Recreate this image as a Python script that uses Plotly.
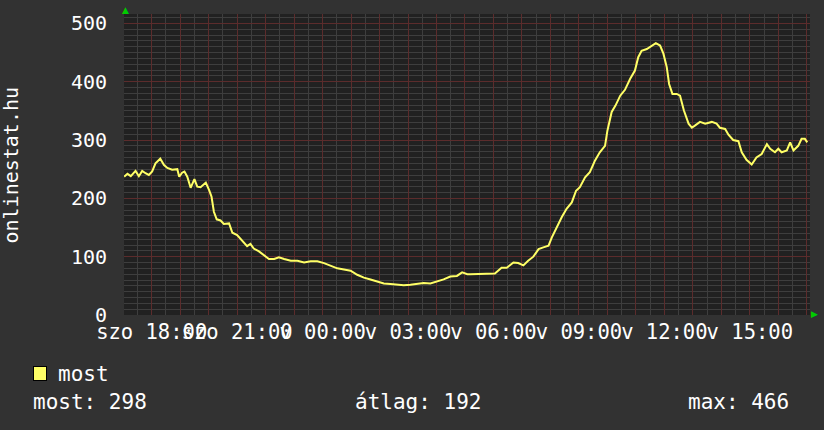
import plotly.graph_objects as go

# ---- data (Sat 2024-03-09 -> Sun 2024-03-10) ----
times = [
    "2024-03-09 17:02", "2024-03-09 17:09", "2024-03-09 17:16", "2024-03-09 17:26", "2024-03-09 17:33",
    "2024-03-09 17:40", "2024-03-09 17:47", "2024-03-09 17:54", "2024-03-09 18:01", "2024-03-09 18:08",
    "2024-03-09 18:18", "2024-03-09 18:26", "2024-03-09 18:33", "2024-03-09 18:43", "2024-03-09 18:54",
    "2024-03-09 18:58", "2024-03-09 19:04", "2024-03-09 19:09", "2024-03-09 19:15", "2024-03-09 19:22",
    "2024-03-09 19:30", "2024-03-09 19:36", "2024-03-09 19:43", "2024-03-09 19:54", "2024-03-09 20:01",
    "2024-03-09 20:06", "2024-03-09 20:11", "2024-03-09 20:17", "2024-03-09 20:25", "2024-03-09 20:32",
    "2024-03-09 20:43", "2024-03-09 20:50", "2024-03-09 21:00", "2024-03-09 21:11", "2024-03-09 21:21",
    "2024-03-09 21:28", "2024-03-09 21:35", "2024-03-09 21:46", "2024-03-09 21:57", "2024-03-09 22:07",
    "2024-03-09 22:18", "2024-03-09 22:28", "2024-03-09 22:39", "2024-03-09 22:53", "2024-03-09 23:07",
    "2024-03-09 23:21", "2024-03-09 23:35", "2024-03-09 23:49", "2024-03-10 00:03", "2024-03-10 00:17",
    "2024-03-10 00:31", "2024-03-10 00:45", "2024-03-10 00:59", "2024-03-10 01:13", "2024-03-10 01:27",
    "2024-03-10 01:41", "2024-03-10 01:55", "2024-03-10 02:09", "2024-03-10 02:23", "2024-03-10 02:37",
    "2024-03-10 02:51", "2024-03-10 03:05", "2024-03-10 03:19", "2024-03-10 03:33", "2024-03-10 03:47",
    "2024-03-10 04:01", "2024-03-10 04:15", "2024-03-10 04:29", "2024-03-10 04:43", "2024-03-10 04:54",
    "2024-03-10 05:05", "2024-03-10 05:11", "2024-03-10 05:39", "2024-03-10 06:03", "2024-03-10 06:17",
    "2024-03-10 06:28", "2024-03-10 06:42", "2024-03-10 06:52", "2024-03-10 07:03", "2024-03-10 07:13",
    "2024-03-10 07:24", "2024-03-10 07:35", "2024-03-10 07:45", "2024-03-10 07:56", "2024-03-10 08:03",
    "2024-03-10 08:13", "2024-03-10 08:24", "2024-03-10 08:34", "2024-03-10 08:45", "2024-03-10 08:54",
    "2024-03-10 09:02", "2024-03-10 09:13", "2024-03-10 09:23", "2024-03-10 09:34", "2024-03-10 09:44",
    "2024-03-10 09:55", "2024-03-10 10:00", "2024-03-10 10:09", "2024-03-10 10:17", "2024-03-10 10:27",
    "2024-03-10 10:37", "2024-03-10 10:48", "2024-03-10 10:58", "2024-03-10 11:05", "2024-03-10 11:12",
    "2024-03-10 11:23", "2024-03-10 11:33", "2024-03-10 11:42", "2024-03-10 11:51", "2024-03-10 11:58",
    "2024-03-10 12:05", "2024-03-10 12:10", "2024-03-10 12:17", "2024-03-10 12:26", "2024-03-10 12:33",
    "2024-03-10 12:41", "2024-03-10 12:51", "2024-03-10 12:58", "2024-03-10 13:05", "2024-03-10 13:15",
    "2024-03-10 13:26", "2024-03-10 13:40", "2024-03-10 13:50", "2024-03-10 13:57", "2024-03-10 14:08",
    "2024-03-10 14:15", "2024-03-10 14:25", "2024-03-10 14:36", "2024-03-10 14:43", "2024-03-10 14:53",
    "2024-03-10 15:04", "2024-03-10 15:14", "2024-03-10 15:25", "2024-03-10 15:36", "2024-03-10 15:43",
    "2024-03-10 15:53", "2024-03-10 16:00", "2024-03-10 16:07", "2024-03-10 16:18", "2024-03-10 16:25",
    "2024-03-10 16:32", "2024-03-10 16:42", "2024-03-10 16:49", "2024-03-10 16:56", "2024-03-10 17:01",
]
most = [
    237, 242, 238, 247, 238, 247, 243, 240, 246, 260,
    268, 257, 252, 249, 250, 237, 244, 246, 237, 218,
    233, 220, 219, 227, 214, 203, 177, 164, 162, 156,
    157, 141, 137, 127, 118, 122, 114, 109, 102, 96,
    96, 99, 96, 93, 93, 90, 92, 92, 89, 84,
    80, 78, 76, 69, 64, 61, 57, 54, 53, 52,
    51, 52, 53, 55, 54, 57, 61, 66, 67, 73,
    70, 70, 70, 71, 81, 81, 90, 89, 85, 93,
    100, 113, 116, 119, 133, 150, 168, 182, 193, 213,
    219, 236, 245, 265, 279, 290, 316, 348, 359, 376,
    386, 405, 419, 442, 453, 456, 462, 466, 462, 448,
    425, 396, 379, 379, 376, 351, 328, 321, 325, 331,
    328, 331, 328, 321, 319, 309, 300, 298, 279, 266,
    258, 270, 276, 293, 285, 279, 285, 279, 282, 296,
    282, 290, 302, 302, 296,
]

series_name = "most"
y_title = "onlinestat.hu"
x_range = ["2024-03-09 17:01:40", "2024-03-10 17:06:48"]
y_range = [0, 516]
y_ticks = [0, 100, 200, 300, 400, 500]
label_times = ["2024-03-09 18:00", "2024-03-09 21:00", "2024-03-10 00:00", "2024-03-10 03:00",
               "2024-03-10 06:00", "2024-03-10 09:00", "2024-03-10 12:00", "2024-03-10 15:00"]
label_texts = ["szo 18:00", "szo 21:00", "v 00:00", "v 03:00", "v 06:00", "v 09:00", "v 12:00", "v 15:00"]
hour_ticks = ["2024-03-09 %02d:00" % h for h in range(18, 24)] + ["2024-03-10 %02d:00" % h for h in range(0, 18)]
half_hour_ticks = ["2024-03-09 %02d:30" % h for h in range(17, 24)] + ["2024-03-10 %02d:30" % h for h in range(0, 17)]
stat_most = 298
stat_avg = 192
stat_max = 466

FONT = "DejaVu Sans Mono"
BG = "#323232"
PLOT_BG = "#212121"
TXT = "#ffffff"
LINE = "#ffff66"
MAJOR = "#5c2c2c"
MINOR = "#3e3e3e"

W, H = 824, 430
L, R, T, B = 124, 14, 14, 115
PW, PH = W - L - R, H - T - B


def px(x):
    return (x - L) / PW


def py(y):
    return (H - B - y) / PH


hour_text = [label_texts[label_times.index(t)] if t in label_times else "" for t in hour_ticks]

fig = go.Figure()
fig.add_trace(go.Scatter(x=times, y=most, mode="lines", name=series_name,
                         line=dict(color=LINE, width=2), showlegend=False))

fig.update_layout(
    width=W, height=H,
    margin=dict(l=L, r=R, t=T, b=B),
    paper_bgcolor=BG, plot_bgcolor=PLOT_BG,
    font=dict(family=FONT, size=20, color=TXT),
    showlegend=False,
    xaxis=dict(
        type="date", range=x_range,
        tickmode="array", tickvals=hour_ticks, ticktext=hour_text, tickangle=0,
        showgrid=True, gridcolor=MAJOR, gridwidth=1,
        minor=dict(tickmode="array", tickvals=half_hour_ticks, showgrid=True,
                   gridcolor=MINOR, gridwidth=1),
        zeroline=False, showline=False, ticks="", ticklabelstandoff=2,
        tickfont=dict(family=FONT, size=20.5, color=TXT),
    ),
    yaxis=dict(
        range=y_range, tickmode="array", tickvals=y_ticks,
        showgrid=True, gridcolor=MAJOR, gridwidth=1,
        minor=dict(dtick=10, tick0=0, showgrid=True, gridcolor=MINOR, gridwidth=1),
        zeroline=False, showline=False, ticks="", ticklabelstandoff=16,
        tickfont=dict(family=FONT, size=20, color=TXT),
    ),
)

ann = []
# y-axis title
ann.append(dict(xref="paper", yref="paper", x=px(10.5), y=py(165), text=y_title, textangle=-90,
                showarrow=False, xanchor="center", yanchor="middle",
                font=dict(family=FONT, size=20, color=TXT)))
# arrows
ann.append(dict(xref="paper", yref="paper", x=px(125), y=py(10), text="▲", showarrow=False,
                xanchor="center", yanchor="middle", font=dict(family="DejaVu Sans", size=9, color="#00cc00")))
ann.append(dict(xref="paper", yref="paper", x=px(814), y=py(314), text="▶", showarrow=False,
                xanchor="center", yanchor="middle", font=dict(family="DejaVu Sans", size=9, color="#00cc00")))
# legend box
ann.append(dict(xref="paper", yref="paper", x=px(39.5), y=py(373.5), text="", showarrow=False,
                width=12, height=13, bgcolor=LINE, bordercolor="#000000", borderwidth=1,
                borderpad=0, xanchor="center", yanchor="middle"))
ann.append(dict(xref="paper", yref="paper", x=px(56), y=py(374), text=series_name, showarrow=False,
                xanchor="left", yanchor="middle", font=dict(family=FONT, size=21, color=TXT)))
ann.append(dict(xref="paper", yref="paper", x=px(31), y=py(402), text=f"most: {stat_most}", showarrow=False,
                xanchor="left", yanchor="middle", font=dict(family=FONT, size=21, color=TXT)))
ann.append(dict(xref="paper", yref="paper", x=px(353), y=py(402), text=f"átlag: {stat_avg}", showarrow=False,
                xanchor="left", yanchor="middle", font=dict(family=FONT, size=21, color=TXT)))
ann.append(dict(xref="paper", yref="paper", x=px(686), y=py(402), text=f"max: {stat_max}", showarrow=False,
                xanchor="left", yanchor="middle", font=dict(family=FONT, size=21, color=TXT)))
fig.update_layout(annotations=ann)

fig.write_html("out.html", config={"displayModeBar": False},
               post_script="document.body.style.margin='0';document.body.style.padding='0';"
                           "document.body.style.background='#323232';")
